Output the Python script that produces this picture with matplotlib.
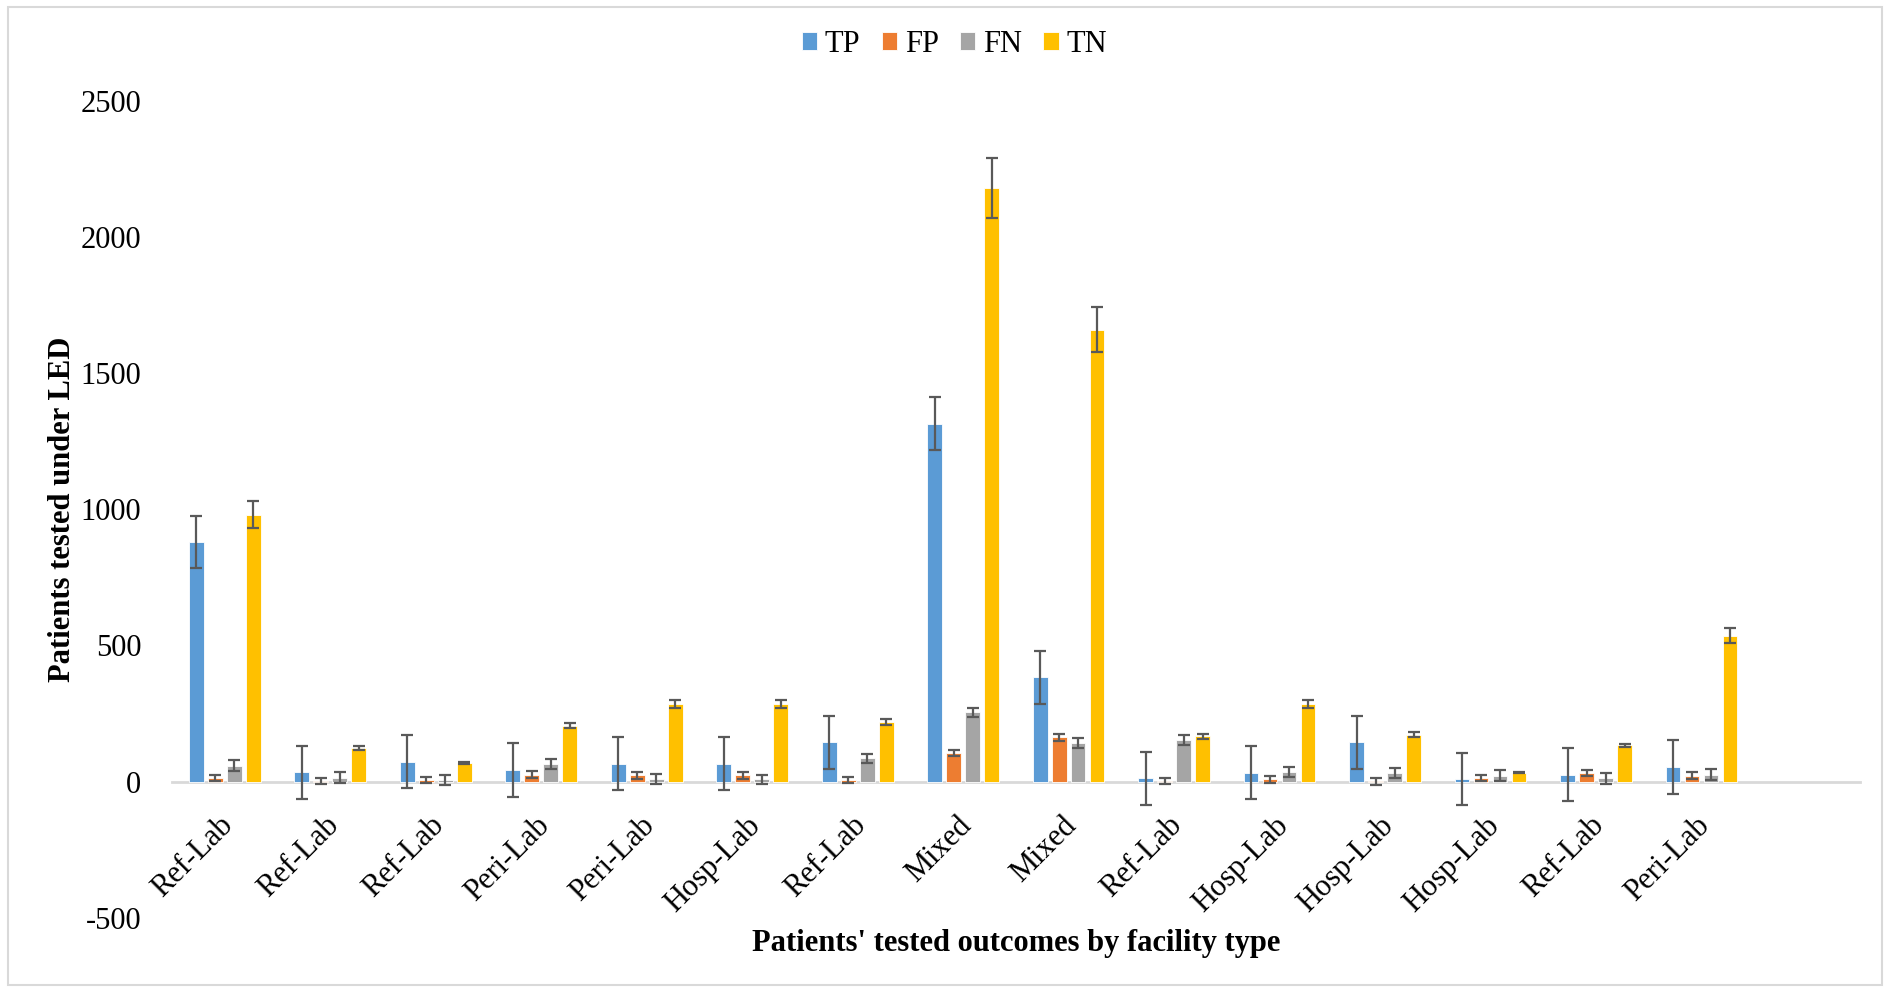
import matplotlib
matplotlib.use("Agg")
import matplotlib.pyplot as plt
import matplotlib.transforms as mtransforms
import numpy as np
from matplotlib.patches import Rectangle

categories = ["Ref-Lab", "Ref-Lab", "Ref-Lab", "Peri-Lab", "Peri-Lab", "Hosp-Lab",
              "Ref-Lab", "Mixed", "Mixed", "Ref-Lab", "Hosp-Lab", "Hosp-Lab",
              "Hosp-Lab", "Ref-Lab", "Peri-Lab", ""]

series_names = ["TP", "FP", "FN", "TN"]
tp = [880, 34, 73, 43, 66, 66, 144, 1315, 383, 12, 33, 145, 10, 26, 54, None]
fp = [13, 2, 6, 26, 23, 23, 6, 106, 163, 3, 8, 1, 12, 31, 22, None]
fn = [59, 15, 5, 65, 10, 8, 85, 254, 142, 153, 36, 32, 22, 12, 26, None]
tn = [980, 124, 69, 206, 286, 286, 220, 2180, 1659, 166, 286, 173, 32, 133, 536, None]

tp_err = [97, 97, 98, 98, 98, 98, 97, 98, 98, 97, 98, 97, 97, 97, 98, 0]
fp_err = [12, 12, 12, 13, 13, 12, 12, 11, 12, 11, 12, 12, 11, 12, 12, 0]
fn_err = [20, 19, 18, 19, 19, 18, 18, 18, 18, 18, 19, 19, 19, 20, 20, 0]
tn_err = [49, 6, 3, 10, 14, 14, 11, 109, 83, 8, 14, 9, 2, 7, 27, 0]

colors = ["#5B9BD5", "#ED7D31", "#A5A5A5", "#FFC000"]

plt.rcParams['font.family'] = ['Liberation Serif', 'DejaVu Serif']
plt.rcParams['axes.unicode_minus'] = False

fig = plt.figure(figsize=(18.9, 9.89), dpi=100)
ax = fig.add_axes([0.091, 0.072, 0.893, 0.826])

# outer frame
fig.patches.append(Rectangle((0.004, 0.004), 0.992, 0.989, transform=fig.transFigure,
                             fill=False, edgecolor="#D9D9D9", linewidth=1.5))

x = np.arange(len(categories))
width = 0.14
step = 0.18
data = [tp, fp, fn, tn]
errs = [tp_err, fp_err, fn_err, tn_err]
handles = []
for i, (vals, err, c, name) in enumerate(zip(data, errs, colors, series_names)):
    v = np.array([np.nan if a is None else a for a in vals], dtype=float)
    e = np.array(err, dtype=float)
    pos = x + (i - 1.5) * step
    h = ax.bar(pos, v, width=width, color=c, edgecolor="white", linewidth=0.6,
               label=name, zorder=2)
    handles.append(h)
    mask = ~np.isnan(v)
    ax.errorbar(pos[mask], v[mask], yerr=e[mask], fmt="none", ecolor="#595959",
                elinewidth=1.6, capsize=4.5, capthick=1.6, zorder=3)

for s in ['top', 'right', 'left']:
    ax.spines[s].set_visible(False)
ax.spines['bottom'].set_position(('data', 0))
ax.spines['bottom'].set_color("#D9D9D9")
ax.spines['bottom'].set_linewidth(2)
ax.spines['bottom'].set_zorder(1)

ax.set_xlim(-0.5, len(categories) - 0.5)
ax.set_ylim(-500, 2500)
ax.set_yticks([-500, 0, 500, 1000, 1500, 2000, 2500])
ax.set_yticklabels(["-500", "0", "500", "1000", "1500", "2000", "2500"])
ax.tick_params(axis='y', length=0, pad=22, labelsize=22)
ax.set_xticks(x)
ax.set_xticklabels(categories, rotation=45, ha='right', rotation_mode='anchor',
                   fontsize=22, va='center')
ax.tick_params(axis='x', length=0, pad=12)
offset = mtransforms.ScaledTranslation(4 / 100, -23 / 100, fig.dpi_scale_trans)
for lbl in ax.get_xticklabels():
    lbl.set_transform(lbl.get_transform() + offset)

ax.set_ylabel("Patients tested under LED", fontsize=22, fontweight='bold')
ax.yaxis.set_label_coords(-0.056, 0.5)
ax.set_xlabel("Patients' tested outcomes by facility type", fontsize=22, fontweight='bold')
ax.xaxis.set_label_coords(0.5, -0.014)
ax.xaxis.label.set_va('top')

fig.legend(handles=handles, labels=series_names, loc='center', bbox_to_anchor=(0.505, 0.955),
           ncol=4, frameon=False, fontsize=22, handlelength=0.5, handleheight=0.5,
           handletextpad=0.25, columnspacing=0.7)

fig.savefig("out.png", dpi=100)
